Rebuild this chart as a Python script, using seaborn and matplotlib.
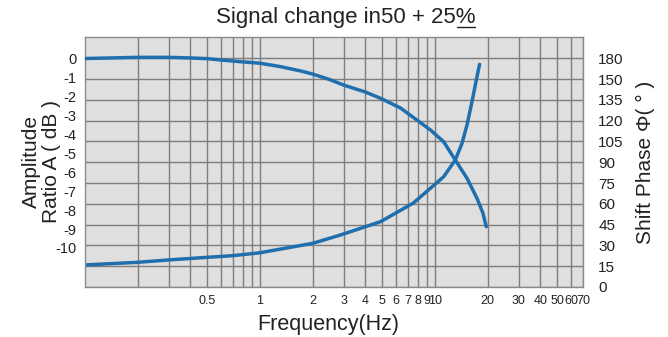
import numpy as np
import pandas as pd
import matplotlib
matplotlib.use("Agg")
import matplotlib.pyplot as plt
import seaborn as sns

# ---- data ----
amp_freq = [0.1, 0.2, 0.3, 0.4, 0.5, 0.6, 0.8, 1.0, 1.31, 1.71, 2.0, 2.53, 3.0, 4.0, 4.88, 6.34,
            9.4, 11.19, 13.05, 15.22, 17.36, 18.78, 19.61]
amp_db = [0.0, 0.06, 0.06, 0.03, -0.01, -0.08, -0.18, -0.25, -0.43, -0.66, -0.82, -1.13, -1.40, -1.77, -2.10, -2.61,
          -3.77, -4.39, -5.36, -6.32, -7.38, -8.17, -8.88]

phase_freq = [0.1, 0.2, 0.3, 0.5, 0.7, 1.0, 2.0, 2.88, 4.88, 7.52, 9.40, 11.19, 13.05, 14.25, 15.22,
              16.25, 17.13, 17.96]
phase_deg = [15.9, 17.8, 19.5, 21.4, 22.6, 24.7, 31.5, 37.5, 47.1, 60.6, 71.2, 79.5, 91.6, 103.6, 116.8,
             133.6, 148.1, 171.2]

x_major = [0.5, 1, 2, 3, 4, 5, 6, 7, 8, 9, 10, 20, 30, 40, 50, 60, 70]
x_major_labels = ["0.5", "1", "2", "3", "4", "5", "6", "7", "8", "9", "10", "20", "30", "40", "50", "60", "70"]
x_minor = [0.2, 0.3, 0.4, 0.6, 0.7, 0.8, 0.9]

db_ticks = [0, -1, -2, -3, -4, -5, -6, -7, -8, -9, -10]
deg_ticks = [0, 15, 30, 45, 60, 75, 90, 105, 120, 135, 150, 180]

title = "Signal change in50 + 25%"

# ---- style ----
sns.set_theme(style="white")
plt.rcParams["font.family"] = ["Liberation Sans", "DejaVu Sans"]

W, H = 668, 337
fig = plt.figure(figsize=(W / 100, H / 100), dpi=100)
L, R, T, B = 85, 583, 37, 287
ax = fig.add_axes([L / W, 1 - B / H, (R - L) / W, (B - T) / H])

curve_col = "#1f6fae"
grid_col = "#7d7d7d"
text_col = "#222222"

# phase axis (base axis, ticks on right) with the chart's compressed top step
def fwd(v):
    return np.interp(v, [-300, 150, 180, 600], [-300, 150, 165, 585])

def inv(v):
    return np.interp(v, [-300, 150, 165, 585], [-300, 150, 180, 600])

ax.set_xscale("log")
ax.set_yscale("function", functions=(fwd, inv))
ax.set_facecolor("#dfdfdf")

phase_df = pd.DataFrame({"f": phase_freq, "deg": phase_deg})
sns.lineplot(data=phase_df, x="f", y="deg", ax=ax, color=curve_col, lw=2.5, sort=True)

# amplitude axis (overlay)
axl = ax.twinx()
amp_df = pd.DataFrame({"f": amp_freq, "db": amp_db})
sns.lineplot(data=amp_df, x="f", y="db", ax=axl, color=curve_col, lw=2.5, sort=True)

# --- base (phase) axis setup, after twinx so the ticks stay on the right
ax.set_xlim(0.1, 70)
ax.set_ylim(0, 195.3)
ax.set_xticks(x_major)
ax.set_xticklabels(x_major_labels)
ax.set_xticks(x_minor, minor=True)
ax.set_xticklabels([], minor=True)
ax.set_yticks(deg_ticks)
ax.set_yticklabels([str(v) for v in deg_ticks])
ax.yaxis.set_minor_locator(matplotlib.ticker.NullLocator())
ax.yaxis.set_ticks_position("right")
ax.yaxis.set_label_position("right")
ax.grid(True, which="both", axis="both", color=grid_col, lw=1.0)
ax.set_axisbelow(True)
ax.tick_params(axis="both", which="both", length=0, colors=text_col)
ax.tick_params(axis="x", which="major", pad=6, labelsize=9)
ax.tick_params(axis="y", pad=11, labelsize=11, labelleft=False, labelright=True)
for lab in ax.get_yticklabels():
    lab.set_horizontalalignment("left")
ax.set_xlabel("Frequency(Hz)", fontsize=15.5, color=text_col, labelpad=5)
ax.xaxis.label.set_x((328 - L) / (R - L))
ax.set_ylabel("Shift Phase Φ( ° )", fontsize=15, color=text_col)
ax.yaxis.set_label_coords((636 - L) / (R - L), 0.5)
for s in ax.spines.values():
    s.set_color("#8a8a8a")
    s.set_linewidth(1.0)

# --- amplitude axis setup (ticks on the left)
axl.set_xlim(0.1, 70)
axl.set_ylim(-12.06, 1.135)
axl.set_yticks(db_ticks)
axl.set_yticklabels([str(v) for v in db_ticks])
axl.yaxis.set_ticks_position("left")
axl.yaxis.set_label_position("left")
axl.tick_params(axis="y", length=0, labelsize=10.5, colors=text_col, pad=6,
                labelleft=True, labelright=False)
axl.set_ylabel("Amplitude\nRatio A ( dB )", fontsize=15, color=text_col, linespacing=1.05)
axl.yaxis.set_label_coords((61 - L) / (R - L), 0.5)
axl.set_xlabel("")
axl.grid(False)
for s in axl.spines.values():
    s.set_visible(False)

# title with underlined percent sign
t = fig.text(346 / W, 1 - 18 / H, title, ha="center", va="center", fontsize=16, color=text_col)
fig.canvas.draw()
r = fig.canvas.get_renderer()
bb = t.get_window_extent(r)
probe = fig.text(0, 0, title[:-1], fontsize=16)
wpre = probe.get_window_extent(r).width
probe.remove()
x0 = (bb.x0 + wpre + 1) / W
x1 = (bb.x1 - 1) / W
yl = (bb.y0 + 2) / H
fig.add_artist(matplotlib.lines.Line2D([x0, x1], [yl, yl], transform=fig.transFigure, color=text_col, lw=1.0))

fig.savefig("out.png", dpi=100, facecolor="white")
